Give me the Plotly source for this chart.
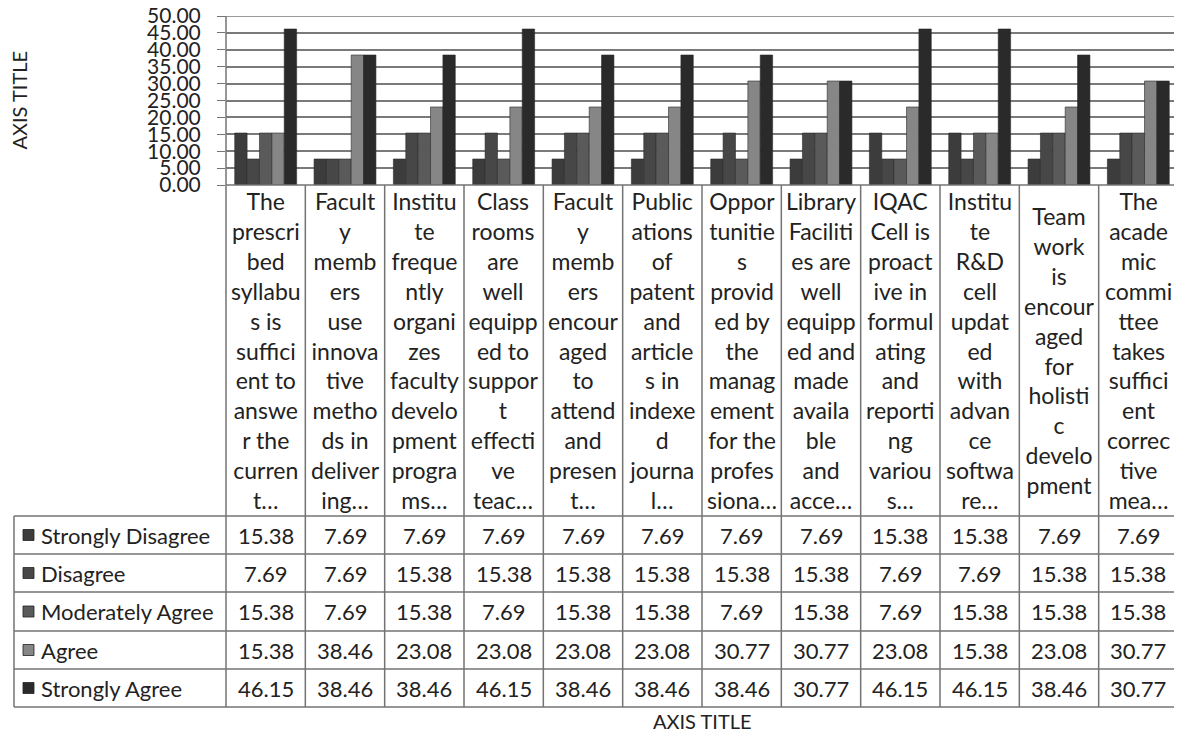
import plotly.graph_objects as go

categories = [
    "The<br>prescri<br>bed<br>syllabu<br>s is<br>suffici<br>ent to<br>answe<br>r the<br>curren<br>t…",
    "Facult<br>y<br>memb<br>ers<br>use<br>innova<br>tive<br>metho<br>ds in<br>deliver<br>ing…",
    "Institu<br>te<br>freque<br>ntly<br>organi<br>zes<br>faculty<br>develo<br>pment<br>progra<br>ms…",
    "Class<br>rooms<br>are<br>well<br>equipp<br>ed to<br>suppor<br>t<br>effecti<br>ve<br>teac…",
    "Facult<br>y<br>memb<br>ers<br>encour<br>aged<br>to<br>attend<br>and<br>presen<br>t…",
    "Public<br>ations<br>of<br>patent<br>and<br>article<br>s in<br>indexe<br>d<br>journa<br>l…",
    "Oppor<br>tunitie<br>s<br>provid<br>ed by<br>the<br>manag<br>ement<br>for the<br>profes<br>siona…",
    "Library<br>Faciliti<br>es are<br>well<br>equipp<br>ed and<br>made<br>availa<br>ble<br>and<br>acce…",
    "IQAC<br>Cell is<br>proact<br>ive in<br>formul<br>ating<br>and<br>reporti<br>ng<br>variou<br>s…",
    "Institu<br>te<br>R&D<br>cell<br>updat<br>ed<br>with<br>advan<br>ce<br>softwa<br>re…",
    "Team<br>work<br>is<br>encour<br>aged<br>for<br>holisti<br>c<br>develo<br>pment",
    "The<br>acade<br>mic<br>commi<br>ttee<br>takes<br>suffici<br>ent<br>correc<br>tive<br>mea…",
]

series_names = ["Strongly Disagree", "Disagree", "Moderately Agree", "Agree", "Strongly Agree"]

strongly_disagree = [15.38, 7.69, 7.69, 7.69, 7.69, 7.69, 7.69, 7.69, 15.38, 15.38, 7.69, 7.69]
disagree          = [7.69, 7.69, 15.38, 15.38, 15.38, 15.38, 15.38, 15.38, 7.69, 7.69, 15.38, 15.38]
moderately_agree  = [15.38, 7.69, 15.38, 7.69, 15.38, 15.38, 7.69, 15.38, 7.69, 15.38, 15.38, 15.38]
agree             = [15.38, 38.46, 23.08, 23.08, 23.08, 23.08, 30.77, 30.77, 23.08, 15.38, 23.08, 30.77]
strongly_agree    = [46.15, 38.46, 38.46, 46.15, 38.46, 38.46, 38.46, 30.77, 46.15, 46.15, 38.46, 30.77]

series_values = [strongly_disagree, disagree, moderately_agree, agree, strongly_agree]
colors = ["#3c3c3c", "#474747", "#5a5a5a", "#868686", "#2a2a2a"]

# The page body has an 8px margin; the figure is sized to fit the window.
OFF = 8
W, H = 1182 - OFF, 734 - OFF
FONT = "Lato, 'Open Sans', sans-serif"
TXT = "#222222"
LINE = "#737373"
GRID = "#7a7a7a"

def px(x):
    return (x - OFF) / W

def py(y):
    return 1 - (y - OFF) / H

PLOT_L, PLOT_R, PLOT_T, PLOT_B = 226, 1178, 16, 185
HEAD_B = 516
ROW_B = [516, 554, 592, 631, 669, 707]
LEFT_COL = 14
Y_MAX = 50

fig = go.Figure()
for name, vals, col in zip(series_names, series_values, colors):
    fig.add_trace(go.Bar(
        x=list(range(len(categories))), y=vals, name=name,
        marker=dict(color=col, line=dict(color="#2a2a2a", width=0.6)),
        showlegend=False,
    ))

shapes = []
annotations = []

# top gridline of the value axis
shapes.append(dict(type="line", xref="paper", yref="y", layer="below",
                   x0=px(PLOT_L - 8), x1=px(PLOT_R), y0=Y_MAX, y1=Y_MAX,
                   line=dict(color=GRID, width=1.6)))
# top of header row (category axis line) and data row lines
shapes.append(dict(type="line", xref="paper", yref="paper",
                   x0=px(PLOT_L), x1=px(PLOT_R), y0=py(PLOT_B), y1=py(PLOT_B),
                   line=dict(color=LINE, width=1.5)))
for yb in ROW_B:
    shapes.append(dict(type="line", xref="paper", yref="paper",
                       x0=px(LEFT_COL), x1=px(PLOT_R), y0=py(yb), y1=py(yb),
                       line=dict(color=LINE, width=1.5)))
# left vertical lines
shapes.append(dict(type="line", xref="paper", yref="paper",
                   x0=px(LEFT_COL), x1=px(LEFT_COL), y0=py(ROW_B[0]), y1=py(ROW_B[-1]),
                   line=dict(color=LINE, width=1.5)))
shapes.append(dict(type="line", xref="paper", yref="paper",
                   x0=px(PLOT_L), x1=px(PLOT_L), y0=py(PLOT_T), y1=py(ROW_B[-1]),
                   line=dict(color=LINE, width=1.5)))
# column boundaries
for i in range(len(categories)):
    shapes.append(dict(type="line", xref="x", yref="paper",
                       x0=i + 0.5, x1=i + 0.5, y0=py(PLOT_B), y1=py(ROW_B[-1]),
                       line=dict(color=LINE, width=1.5)))

# header labels
for i, cat in enumerate(categories):
    annotations.append(dict(x=i, y=py((PLOT_B + HEAD_B) / 2), xref="x", yref="paper",
                            text=cat, showarrow=False, xanchor="center", yanchor="middle",
                            align="center", font=dict(family=FONT, size=23, color=TXT)))

# data rows with legend keys
for r, (name, vals, col) in enumerate(zip(series_names, series_values, colors)):
    yc_px = (ROW_B[r] + ROW_B[r + 1]) / 2
    yc = py(yc_px)
    shapes.append(dict(type="rect", xref="paper", yref="paper",
                       x0=px(23), x1=px(34), y0=py(yc_px + 5.5), y1=py(yc_px - 5.5),
                       fillcolor=col, line=dict(color="#222222", width=0.8)))
    annotations.append(dict(x=px(39), y=yc, xref="paper", yref="paper",
                            text=name, showarrow=False, xanchor="left", yanchor="middle",
                            font=dict(family=FONT, size=22, color=TXT)))
    for i, v in enumerate(vals):
        annotations.append(dict(x=i, y=yc, xref="x", yref="paper", text=f"{v:.2f}",
                                showarrow=False, xanchor="center", yanchor="middle",
                                font=dict(family=FONT, size=22, color=TXT)))

# axis titles
annotations.append(dict(x=px(18), y=py((PLOT_T + PLOT_B) / 2), xref="paper", yref="paper",
                        text="AXIS TITLE", textangle=-90, showarrow=False,
                        xanchor="center", yanchor="middle",
                        font=dict(family=FONT, size=20, color=TXT)))
annotations.append(dict(x=px((PLOT_L + PLOT_R) / 2), y=py(734), xref="paper", yref="paper",
                        text="AXIS TITLE", showarrow=False,
                        xanchor="center", yanchor="bottom", borderpad=0,
                        font=dict(family=FONT, size=20, color=TXT)))

fig.update_layout(
    width=W, height=H, autosize=False,
    margin=dict(l=0, r=0, t=0, b=0, pad=0),
    paper_bgcolor="white", plot_bgcolor="white",
    barmode="group", bargap=0.22, bargroupgap=0,
    shapes=shapes, annotations=annotations,
    xaxis=dict(domain=[px(PLOT_L), px(PLOT_R)], range=[-0.5, len(categories) - 0.5],
               showticklabels=False, showgrid=False, zeroline=False, ticks="",
               automargin=False),
    yaxis=dict(domain=[py(PLOT_B), py(PLOT_T)], range=[0, Y_MAX], tickmode="linear",
               tick0=0, dtick=5, tickformat=".2f", showgrid=True,
               gridcolor=GRID, gridwidth=1.6, zeroline=False,
               ticks="outside", ticklen=8, tickcolor=LINE, tickwidth=1.4,
               tickfont=dict(family=FONT, size=21, color=TXT), ticklabelstandoff=12,
               ticklabeloverflow="allow", automargin=False),
    font=dict(family=FONT, color=TXT),
)

fig.write_html("out.html")
